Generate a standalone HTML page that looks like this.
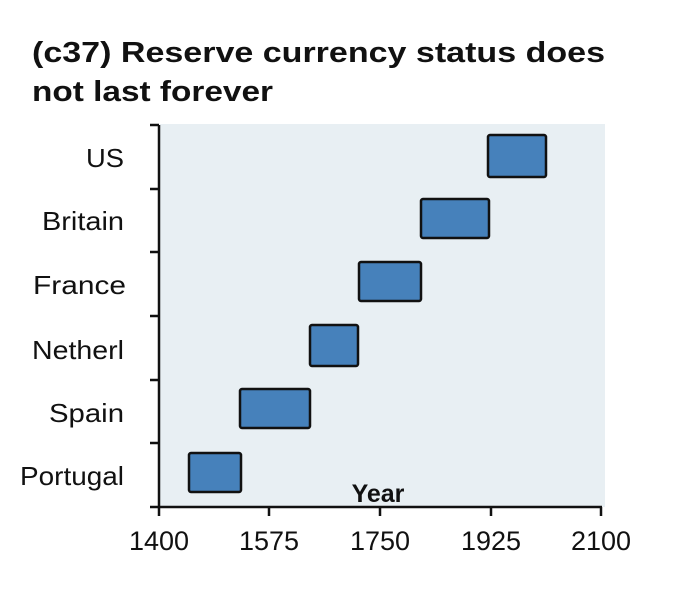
<!DOCTYPE html>
<html><head><style>body{margin:0;background:#fff}</style></head><body>
<svg width="676" height="584" xmlns="http://www.w3.org/2000/svg" font-family="Liberation Sans, sans-serif">
<rect width="676" height="584" fill="#fff"/>
<text x="32" y="62" font-size="29" font-weight="bold" fill="#111" textLength="573" lengthAdjust="spacingAndGlyphs">(c37) Reserve currency status does</text>
<text x="32" y="101" font-size="29" font-weight="bold" fill="#111" textLength="241" lengthAdjust="spacingAndGlyphs">not last forever</text>
<rect x="160" y="124" width="445" height="383" fill="#e8eff3"/>
<g fill="#4681bb" stroke="#111" stroke-width="2.5">
<rect x="488" y="135" width="58" height="42" rx="2"/>
<rect x="421" y="199" width="68" height="39" rx="2"/>
<rect x="359" y="262" width="62" height="39" rx="2"/>
<rect x="310" y="325" width="48" height="41" rx="2"/>
<rect x="240" y="389" width="70" height="39" rx="2"/>
<rect x="189" y="453" width="52" height="39" rx="2"/>
</g>
<g stroke="#111" stroke-width="2.5" fill="none">
<path d="M159 125V507H602"/>
<path d="M150 125H159M150 189H159M150 252H159M150 316H159M150 380H159M150 443H159M150 507H159"/>
<path d="M159 507V516M269 507V516M380 507V516M491 507V516M601 507V516"/>
</g>
<g font-size="26" fill="#111">
<text x="86" y="167" textLength="38" lengthAdjust="spacingAndGlyphs">US</text>
<text x="42" y="230" textLength="82" lengthAdjust="spacingAndGlyphs">Britain</text>
<text x="33" y="294" textLength="93" lengthAdjust="spacingAndGlyphs">France</text>
<text x="32" y="359" textLength="92" lengthAdjust="spacingAndGlyphs">Netherl</text>
<text x="49" y="422" textLength="75" lengthAdjust="spacingAndGlyphs">Spain</text>
<text x="20" y="485" textLength="104" lengthAdjust="spacingAndGlyphs">Portugal</text>
</g>
<text x="378" y="502" font-size="25" font-weight="bold" text-anchor="middle" fill="#111">Year</text>
<g font-size="27" fill="#111" text-anchor="middle">
<text x="159" y="550">1400</text>
<text x="269" y="550">1575</text>
<text x="380" y="550">1750</text>
<text x="491" y="550">1925</text>
<text x="601" y="550">2100</text>
</g>
</svg>
</body></html>
